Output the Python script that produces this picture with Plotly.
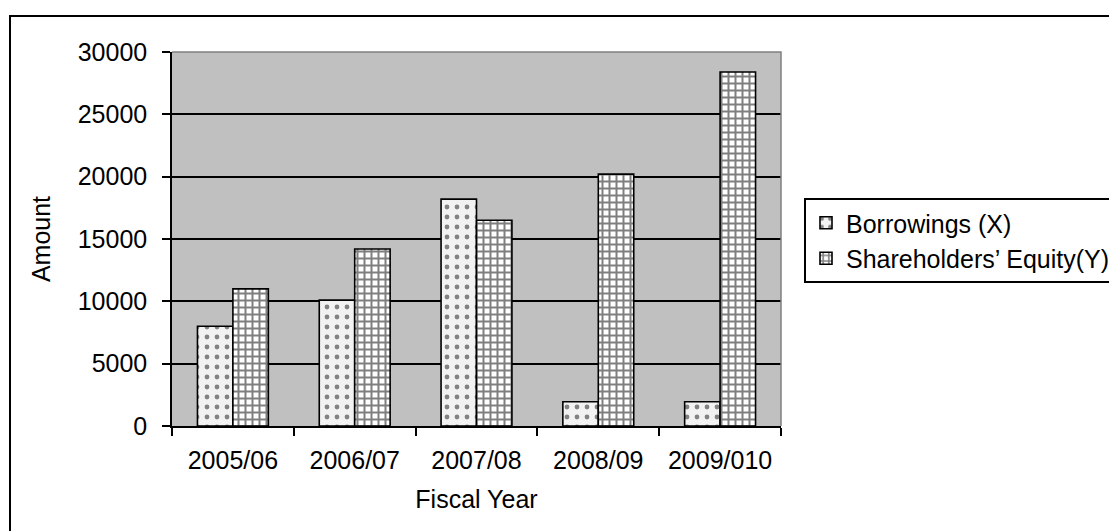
import plotly.graph_objects as go

# Fiscal-year figures
years = ["2005/06", "2006/07", "2007/08", "2008/09", "2009/010"]
borrowings = [8000, 10100, 18200, 1950, 1950]
equity = [11000, 14200, 16500, 20200, 28400]
y_ticks = [0, 5000, 10000, 15000, 20000, 25000, 30000]
y_tick_labels = [str(v) for v in y_ticks]

W, H = 1109, 531
L, R, T, B = 172, 781, 52, 426  # plot-area edges in pixels
FONT = "Liberation Sans, Arial, sans-serif"
FS = 25


def px(x):
    return (x - L) / (R - L)


def py(y):
    return (B - y) / (B - T)


fig = go.Figure()
fig.add_trace(go.Bar(
    name="Borrowings (X)", x=years, y=borrowings,
    marker=dict(color="#f4f4f4", line=dict(color="black", width=1.6),
                pattern=dict(shape=".", fgcolor="#111111", bgcolor="#f2f2f2",
                             size=10, solidity=0.18)),
))
fig.add_trace(go.Bar(
    name="Shareholders\u2019 Equity(Y)", x=years, y=equity,
    marker=dict(color="white", line=dict(color="black", width=1.6),
                pattern=dict(shape="+", fgcolor="black", bgcolor="white",
                             size=7, solidity=0.49)),
))

shapes = [
    # grey border along the top and right of the plot area
    dict(type="path", xref="paper", yref="paper",
         path="M 0,1 L 1,1 L 1,0",
         line=dict(color="#808080", width=1.5), layer="above"),
    # outer chart frame
    dict(type="path", xref="paper", yref="paper",
         path=f"M {px(10)},{py(560)} L {px(10)},{py(16)} L {px(1130)},{py(16)}",
         line=dict(color="black", width=2), layer="above"),
]

fig.update_layout(
    width=W, height=H,
    margin=dict(l=L, r=W - R, t=T, b=H - B, autoexpand=False),
    paper_bgcolor="white", plot_bgcolor="#c0c0c0",
    barmode="group", bargap=0.418, bargroupgap=0,
    font=dict(family=FONT, size=FS, color="black"),
    showlegend=True,
    legend=dict(x=px(804), y=py(198), xanchor="left", yanchor="top",
                bordercolor="black", borderwidth=2, bgcolor="white",
                font=dict(family=FONT, size=FS), itemwidth=30,
                traceorder="normal"),
    shapes=shapes,
    xaxis=dict(
        type="category", tickson="boundaries", ticks="outside", ticklen=8,
        tickwidth=1.5, tickcolor="black", showline=True, linecolor="black",
        linewidth=1.5, showgrid=False, ticklabelstandoff=11,
        title=dict(text="Fiscal Year", standoff=18,
                   font=dict(family=FONT, size=FS)),
    ),
    yaxis=dict(
        range=[0, 30000], tickvals=y_ticks, ticktext=y_tick_labels,
        ticks="outside", ticklen=8,
        tickwidth=1.5, tickcolor="black", showline=True, linecolor="black",
        linewidth=1.5, showgrid=True, gridcolor="black", gridwidth=1.5,
        zeroline=False, ticklabelstandoff=10,
        title=dict(text="Amount", standoff=20,
                   font=dict(family=FONT, size=FS)),
    ),
)

fig.write_html("out.html")
